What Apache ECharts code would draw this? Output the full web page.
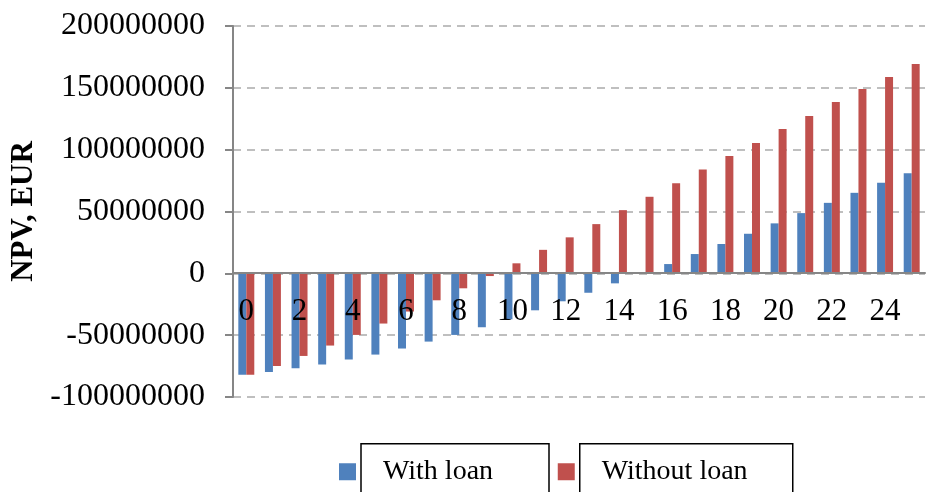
<!DOCTYPE html>
<html>
<head>
<meta charset="utf-8">
<script src="https://cdn.jsdelivr.net/npm/echarts@6/dist/echarts.min.js"></script>
<style>
  html, body { margin: 0; padding: 0; background: #fff; }
  #npv-chart { width: 928px; height: 492px; }
</style>
</head>
<body>
<div id="npv-chart"></div>
<script>
var years = [];
for (var i = 0; i <= 25; i++) years.push(String(i));

// NPV by year, EUR
var withLoan = [
  -82000000, -79700000, -76700000, -73800000, -69700000, -65700000, -60800000,
  -55200000, -49800000, -43600000, -37200000, -29900000, -22600000, -15700000,
  -8100000, 0, 7500000, 15600000, 23700000, 32000000, 40400000, 48700000,
  57000000, 65100000, 73200000, 81000000
];
var withoutLoan = [
  -82000000, -74900000, -66800000, -58400000, -49800000, -40600000, -30900000,
  -21800000, -12100000, -2200000, 8100000, 19000000, 29100000, 39800000,
  51100000, 61900000, 72900000, 84000000, 94800000, 105400000, 116700000,
  127200000, 138500000, 149000000, 158700000, 169200000
];

var chartDom = document.getElementById('npv-chart');
var myChart = echarts.init(chartDom);
var font = '"Liberation Serif", "Times New Roman", serif';

var gridTop = 26, gridBottom = 95;
var yMin = -100000000, yMax = 200000000;
// move the category axis up to the zero line
var plotH = 492 - gridTop - gridBottom;
var zeroShift = Math.round(plotH * (0 - yMin) / (yMax - yMin));

var option = {
  animation: false,
  textStyle: { fontFamily: font },
  grid: {
    left: 233, right: 3, top: gridTop, bottom: gridBottom,
    containLabel: false,
    outerBoundsMode: 'none'
  },
  legend: {
    left: 334,
    top: 438,
    itemWidth: 17,
    itemHeight: 17,
    itemGap: 8,
    icon: 'rect',
    data: [
      { name: 'With loan', textStyle: { width: 166 } },
      { name: 'Without loan', textStyle: { width: 191 } }
    ],
    textStyle: {
      fontFamily: font,
      fontSize: 28,
      color: '#000',
      borderColor: '#000',
      borderWidth: 1.5,
      height: 30,
      lineHeight: 30,
      padding: [13, 0, 13, 22]
    }
  },
  xAxis: {
    type: 'category',
    data: years,
    offset: -zeroShift,
    z: 5,
    axisLine: { onZero: false, lineStyle: { color: '#868686', width: 2 } },
    axisTick: { length: 8, lineStyle: { color: '#868686', width: 2 } },
    axisLabel: {
      interval: 1,
      margin: 23,
      fontFamily: font,
      fontSize: 31,
      color: '#000'
    },
    splitLine: { show: false }
  },
  yAxis: {
    type: 'value',
    name: 'NPV, EUR',
    nameLocation: 'middle',
    nameGap: 193,
    nameTextStyle: {
      fontFamily: font,
      fontSize: 31,
      fontWeight: 'bold',
      color: '#000'
    },
    min: yMin,
    max: yMax,
    interval: 50000000,
    axisLine: { show: true, lineStyle: { color: '#868686', width: 2 } },
    axisTick: { show: true, length: 8, lineStyle: { color: '#868686', width: 2 } },
    axisLabel: {
      margin: 28,
      fontFamily: font,
      fontSize: 32,
      color: '#000',
      formatter: function (v) { return String(v); }
    },
    splitLine: {
      show: true,
      lineStyle: { color: '#bfbfbf', type: [8, 6], width: 2 }
    }
  },
  series: [
    {
      name: 'With loan',
      type: 'bar',
      data: withLoan,
      barGap: '0%',
      barCategoryGap: '40%',
      itemStyle: { color: '#4f81bd' }
    },
    {
      name: 'Without loan',
      type: 'bar',
      data: withoutLoan,
      itemStyle: { color: '#c0504d' }
    }
  ]
};

myChart.setOption(option);
window.addEventListener('resize', myChart.resize);
</script>
</body>
</html>
